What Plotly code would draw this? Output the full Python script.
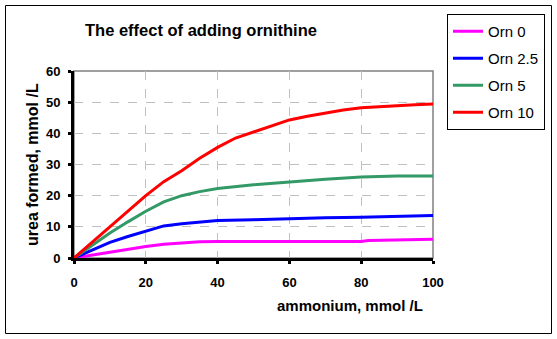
import plotly.graph_objects as go

ammonium_orn0 = [0, 10, 20, 25, 30, 35, 40, 60, 80, 82, 95, 100]
urea_orn0 = [0, 1.9, 3.7, 4.4, 4.8, 5.2, 5.3, 5.3, 5.3, 5.6, 5.8, 6.0]

ammonium_orn25 = [0, 5, 10, 15, 20, 25, 30, 40, 50, 60, 70, 80, 90, 100]
urea_orn25 = [0, 2.6, 5.0, 6.9, 8.5, 10.3, 11.0, 12.0, 12.3, 12.7, 12.9, 13.1, 13.4, 13.6]

ammonium_orn5 = [0, 5, 10, 15, 20, 25, 30, 35, 40, 50, 60, 70, 80, 90, 100]
urea_orn5 = [0, 4.0, 8.0, 11.6, 15.0, 18.0, 20.0, 21.3, 22.3, 23.5, 24.5, 25.3, 26.0, 26.3, 26.3]

ammonium_orn10 = [0, 5, 10, 15, 20, 25, 30, 35, 40, 45, 50, 55, 60, 65, 70, 75, 80, 85, 90, 95, 100]
urea_orn10 = [0, 5.0, 10.0, 15.0, 20.0, 24.5, 28.0, 32.0, 35.5, 38.5, 40.5, 42.5, 44.3, 45.5,
              46.6, 47.5, 48.2, 48.6, 49.0, 49.2, 49.4]

series_names = ["Orn 0", "Orn 2.5", "Orn 5", "Orn 10"]
series_colors = ["#FF00FF", "#0000FF", "#339966", "#FF0000"]
x_data = [ammonium_orn0, ammonium_orn25, ammonium_orn5, ammonium_orn10]
y_data = [urea_orn0, urea_orn25, urea_orn5, urea_orn10]

x_ticks = [0, 20, 40, 60, 80, 100]
y_ticks = [0, 10, 20, 30, 40, 50, 60]

W, H = 557, 339
L, R, T, B = 74, 433, 71, 258

fig = go.Figure()
for name, col, xs, ys in zip(series_names, series_colors, x_data, y_data):
    fig.add_trace(go.Scatter(x=xs, y=ys, mode="lines", name=name, legendgroup=name,
                             line=dict(color=col, width=3)))

def px2paper_x(p):
    return (p - L) / (R - L)

def px2paper_y(p):
    return (B - p) / (B - T)

font = "Liberation Sans, Arial, sans-serif"

fig.update_layout(
    width=W, height=H,
    margin=dict(l=L, r=W - R, t=T, b=H - B),
    paper_bgcolor="white", plot_bgcolor="white",
    font=dict(family=font, color="black"),
    showlegend=True,
    legend=dict(
        x=px2paper_x(447), y=px2paper_y(14), xanchor="left", yanchor="top",
        bordercolor="black", borderwidth=1, bgcolor="white",
        font=dict(size=15, family=font), itemwidth=30,
        tracegroupgap=4.5,
    ),
    xaxis=dict(
        range=[0, 100], tickvals=x_ticks, showgrid=True,
        gridcolor="#C0C0C0", griddash="dash", gridwidth=1,
        showline=True, linecolor="black", linewidth=3,
        ticks="outside", ticklen=3, tickwidth=3, tickcolor="black",
        ticklabelstandoff=7,
        tickfont=dict(size=13, family=font, weight="bold"),
        zeroline=False, fixedrange=True,
    ),
    yaxis=dict(
        range=[0, 60], tickvals=y_ticks, showgrid=True,
        gridcolor="#C0C0C0", griddash="dash", gridwidth=1,
        showline=True, linecolor="black", linewidth=3,
        ticks="outside", ticklen=3, tickwidth=3, tickcolor="black",
        ticklabelstandoff=5,
        tickfont=dict(size=13, family=font, weight="bold"),
        zeroline=False, fixedrange=True,
    ),
    shapes=[
        dict(type="rect", xref="paper", yref="paper", x0=0, y0=0, x1=1, y1=1,
             line=dict(color="#808080", width=1.5), layer="below"),
        dict(type="rect", xref="paper", yref="paper",
             x0=px2paper_x(5.5), x1=px2paper_x(551.5),
             y0=px2paper_y(333.5), y1=px2paper_y(5.5),
             line=dict(color="black", width=1)),
    ],
    annotations=[
        dict(text="The effect of adding ornithine", xref="paper", yref="paper",
             x=px2paper_x(83), y=px2paper_y(30), xanchor="left", yanchor="middle",
             showarrow=False, font=dict(size=16.5, family=font, weight="bold")),
        dict(text="urea formed, mmol /L", xref="paper", yref="paper",
             x=px2paper_x(32), y=px2paper_y(165), xanchor="center", yanchor="middle",
             textangle=-90, showarrow=False,
             font=dict(size=16, family=font, weight="bold")),
        dict(text="ammonium, mmol /L", xref="paper", yref="paper",
             x=px2paper_x(350), y=px2paper_y(305), xanchor="center", yanchor="middle",
             showarrow=False, font=dict(size=15, family=font, weight="bold")),
    ],
)

fig.write_html("out.html")
